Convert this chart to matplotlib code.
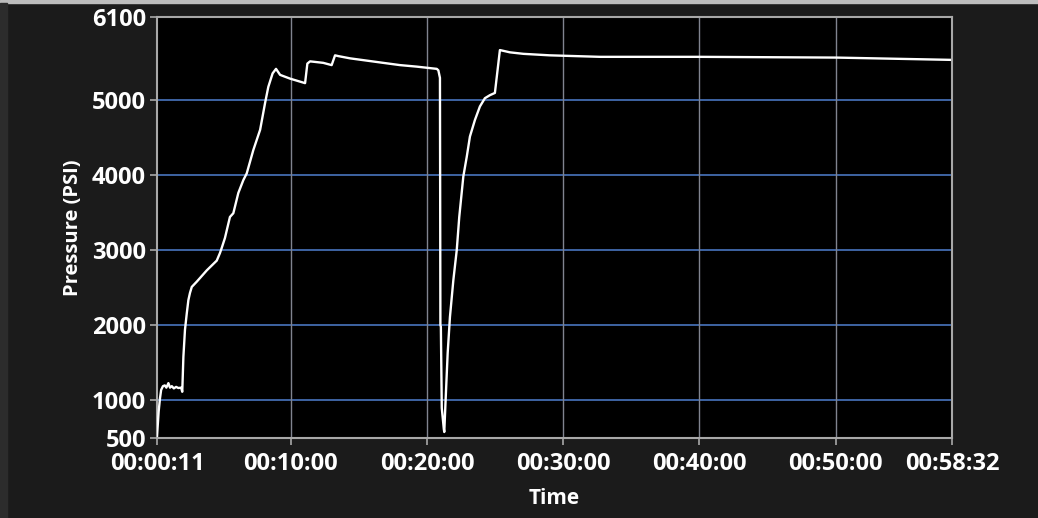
import matplotlib.pyplot as plt
from matplotlib.patches import Rectangle

# ─── Data ─────────────────────────────────────────────────────────────────────

time_s = [11, 18, 24, 29, 37, 45, 52, 61, 68, 76, 85, 95, 105, 117, 122,
          127, 134, 142, 149, 156, 164, 186, 230, 274, 288, 296, 310, 332,
          347, 369, 391, 406, 435, 465, 487, 501, 520, 535, 553, 597, 641,
          663, 673, 685, 743, 780, 795, 809, 861, 934, 1007, 1081, 1154,
          1243, 1250, 1257, 1259, 1261, 1265, 1274, 1276, 1282, 1291, 1301,
          1316, 1331, 1342, 1360, 1375, 1389, 1411, 1433, 1455, 1477, 1499,
          1521, 1536, 1565, 1624, 1741, 1962, 2402, 3004, 3503]

pressure_psi = [530, 850, 1030, 1140, 1190, 1200, 1170, 1230, 1170, 1190,
                1160, 1180, 1165, 1170, 1115,
                1580, 1940, 2160, 2335, 2430, 2510, 2580, 2730, 2860, 2960,
                3030, 3160, 3440,
                3490, 3760, 3930, 4020, 4330, 4600, 4960, 5170, 5350, 5410,
                5330, 5280, 5240,
                5220, 5480, 5510, 5490, 5460, 5590, 5580, 5550, 5520, 5490,
                5460, 5440,
                5410, 5390, 5290, 2000, 1980, 900, 620, 580, 1010, 1630, 2110,
                2600, 3000, 3440, 3980, 4240, 4510, 4730, 4910, 5020, 5060,
                5090,
                5660, 5650, 5630, 5610, 5590, 5570, 5570, 5560, 5530]

x_ticks  = [11, 600, 1200, 1800, 2400, 3000, 3512]
x_labels = ['00:00:11', '00:10:00', '00:20:00', '00:30:00',
            '00:40:00', '00:50:00', '00:58:32']
y_ticks  = [500, 1000, 2000, 3000, 4000, 5000, 6100]


# ─── Figure ───────────────────────────────────────────────────────────────────

plt.rcParams['font.family'] = ['Open Sans', 'DejaVu Sans']

fig = plt.figure(figsize=(10.38, 5.18), dpi=100, facecolor='#1b1b1b')
fig.patches.append(Rectangle((0, 0.994), 1, 0.006, transform=fig.transFigure,
                             color='#bdbdbd', zorder=0))
fig.patches.append(Rectangle((0, 0), 0.007, 0.994, transform=fig.transFigure,
                             color='#2c2c2c', zorder=0))

ax = fig.add_axes([0.1513, 0.1544, 0.7658, 0.8128])
ax.set_facecolor('black')

# grid
for v in y_ticks[1:]:
    ax.axhline(v, color='#4f7fcf', linewidth=1.1, zorder=1)
for t in x_ticks[1:-1]:
    ax.axvline(t, color='#80848f', linewidth=1.0, zorder=1)

ax.plot(time_s, pressure_psi, color='white', linewidth=1.7, zorder=3)

ax.set_xlim(11, 3512)
ax.set_ylim(500, 6100)
ax.set_xticks(x_ticks)
ax.set_xticklabels(x_labels)
ax.set_yticks(y_ticks)

for sp in ax.spines.values():
    sp.set_color('#a8a8a8')
    sp.set_linewidth(1.5)

ax.tick_params(colors='#a8a8a8', length=5, width=1.2, labelcolor='white',
               labelsize=17)
ax.tick_params(axis='x', pad=5)
ax.tick_params(axis='y', pad=3)
for lab in ax.get_xticklabels() + ax.get_yticklabels():
    lab.set_fontweight('bold')

ax.set_xlabel('Time', color='white', fontsize=15, fontweight='bold', labelpad=9)
ax.set_ylabel('Pressure (PSI)', color='white', fontsize=14.5, fontweight='bold',
              labelpad=6)

plt.savefig('out.png', dpi=100, facecolor=fig.get_facecolor())
